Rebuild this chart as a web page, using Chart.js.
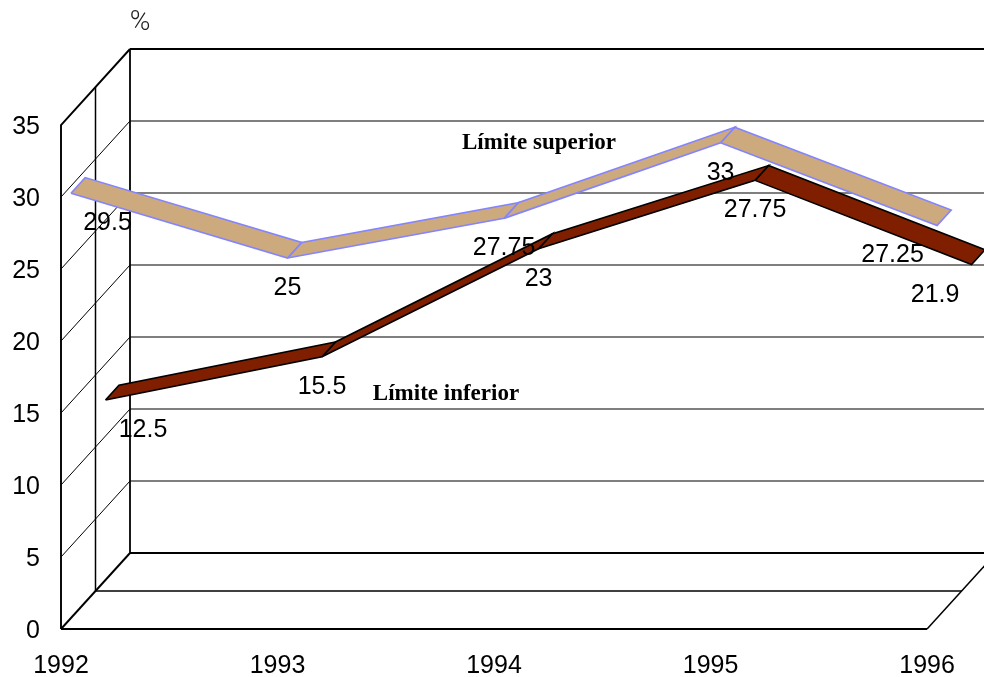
<!DOCTYPE html>
<html>
<head>
<meta charset="utf-8">
<style>html,body{margin:0;padding:0;background:#fff}canvas{display:block}</style>
<script src="https://cdn.jsdelivr.net/npm/chart.js@4"></script>
</head>
<body>
<canvas id="c" width="984" height="677"></canvas>
<script>
const years = [1992, 1993, 1994, 1995, 1996];
const yTicks = [0, 5, 10, 15, 20, 25, 30, 35];
const upperValues = [29.5, 25, 27.75, 33, 27.25];
const lowerValues = [12.5, 15.5, 23, 27.75, 21.9];
const upperName = 'Límite superior';
const lowerName = 'Límite inferior';
const unitLabel = '%';

// Oblique projection: depth t (0 = front wall, 1 = back wall) in axis units
const DX = 0.3187, DY = 5.278, XMAX = 1996.263;
const P = (x, y, t) => ({x: x + t * DX, y: y + t * DY});

function frameLine(points, color, width) {
  return {type: 'scatter', data: points, showLine: true, borderColor: color, borderWidth: width,
    pointRadius: 0, fill: false, clip: false, order: 10, tension: 0};
}
function ribbon(values, t0, t1, fillColor, strokeColor, order) {
  const out = [];
  for (let i = 0; i < values.length - 1; i++) {
    const a = years[i], b = years[i + 1], u = values[i], v = values[i + 1];
    out.push({type: 'scatter', showLine: true, fill: 'shape', tension: 0,
      backgroundColor: fillColor, borderColor: strokeColor, borderWidth: 1.6,
      borderJoinStyle: 'miter', pointRadius: 0, clip: false, order: order,
      data: [P(a, u, t0), P(b, v, t0), P(b, v, t1), P(a, u, t1), P(a, u, t0)]});
  }
  return out;
}

const x0 = years[0], x1 = years[years.length - 1];
const yTop = yTicks[yTicks.length - 1];
const frame = [];
// horizontal grid on back wall and its diagonals on the side wall
yTicks.slice(1, -1).forEach(v => {
  frame.push(frameLine([P(x0, v, 1), {x: XMAX, y: v + DY}], '#000', 1.1));
  frame.push(frameLine([P(x0, v, 0), P(x0, v, 1)], '#000', 1));
});
frame.push(frameLine([P(x0, yTop, 1), {x: XMAX, y: yTop + DY}], '#000', 1.9));
frame.push(frameLine([P(x0, 0, 1), {x: XMAX, y: DY}], '#000', 1.9));
frame.push(frameLine([P(x0, 0, 1), P(x0, yTop, 1)], '#000', 1.8));
frame.push(frameLine([P(x0, 0, 0), P(x0, yTop, 0), P(x0, yTop, 1)], '#000', 1.9));
frame.push(frameLine([P(x0, 0, 0.5), P(x0, yTop, 0.5)], '#000', 1.5));
frame.push(frameLine([P(x0, 0, 0), P(x0, 0, 1)], '#000', 1.9));
frame.push(frameLine([P(x0, 0, 0.5), P(x1, 0, 0.5)], '#000', 1.5));
frame.push(frameLine([P(x0, 0, 0), P(x1, 0, 0)], '#000', 1.9));
frame.push(frameLine([P(x1, 0, 0), P(x1, 0, 1)], '#000', 1.5));

const UP_T = [0.145, 0.35], LOW_T = [0.645, 0.84];
const upperNudge = [36.5, 0, 0, 0, -44.5];
const lowerNudge = [37.5, 0, 0, 0, -36.5];

const labelsPlugin = {
  id: 'labels',
  afterDatasetsDraw(chart) {
    const {ctx, scales: {x, y}} = chart;
    ctx.save();
    ctx.fillStyle = '#000';
    ctx.textAlign = 'center';
    ctx.textBaseline = 'middle';
    ctx.font = '25px "Liberation Sans"';
    const draw = (values, t, nudge) => values.forEach((v, i) => {
      const p = P(years[i], v, t);
      ctx.fillText(String(v), x.getPixelForValue(p.x) + nudge[i], y.getPixelForValue(p.y) + 30);
    });
    draw(upperValues, UP_T[0], upperNudge);
    draw(lowerValues, LOW_T[0], lowerNudge);
    ctx.font = 'bold 23px "Liberation Serif"';
    ctx.fillText(upperName, 539, 143);
    ctx.fillText(lowerName, 446, 394);
    ctx.font = '300 28px "Roboto"';
    ctx.fillStyle = '#222';
    ctx.fillText(unitLabel, 140, 23);
    ctx.restore();
  }
};

new Chart(document.getElementById('c'), {
  type: 'scatter',
  data: {datasets: [
    ...ribbon(upperValues, UP_T[0], UP_T[1], '#CCAA7D', '#8484FF', 1),
    ...ribbon(lowerValues, LOW_T[0], LOW_T[1], '#7F1F00', '#000', 2),
    ...frame
  ]},
  options: {
    responsive: false, animation: false, events: [],
    layout: {padding: {top: 125, right: 0, left: 0, bottom: 0}},
    plugins: {legend: {display: false}, tooltip: {enabled: false}, title: {display: false}},
    scales: {
      x: {type: 'linear', min: x0, max: XMAX,
        grid: {display: false, drawTicks: false}, border: {display: false},
        ticks: {stepSize: 1, includeBounds: false, autoSkip: false, maxRotation: 0, padding: 22,
          color: '#000', font: {family: 'Liberation Sans', size: 25}, callback: v => String(v)},
        afterFit(s) { s.height = 48; }},
      y: {type: 'linear', min: 0, max: yTop,
        grid: {display: false, drawTicks: false}, border: {display: false},
        ticks: {stepSize: 5, padding: 21, labelOffset: 2, color: '#000', font: {family: 'Liberation Sans', size: 25}},
        afterFit(s) { s.width = 61; }}
    }
  },
  plugins: [labelsPlugin]
});
</script>
</body>
</html>
